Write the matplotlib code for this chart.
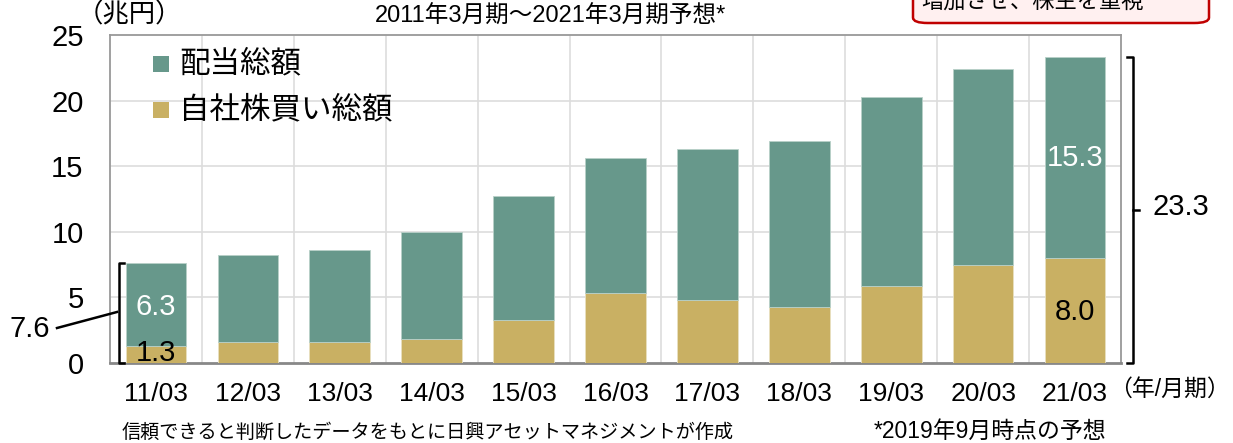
import matplotlib
matplotlib.use("Agg")
import matplotlib.pyplot as plt
from matplotlib.patches import FancyBboxPatch, Rectangle
from matplotlib.lines import Line2D

plt.rcParams['font.family'] = ['Liberation Sans', 'Noto Sans CJK JP', 'DejaVu Sans']

categories = ["11/03", "12/03", "13/03", "14/03", "15/03", "16/03",
              "17/03", "18/03", "19/03", "20/03", "21/03"]
buyback = [1.3, 1.6, 1.6, 1.8, 3.3, 5.3, 4.8, 4.3, 5.9, 7.5, 8.0]
dividend = [6.3, 6.6, 7.0, 8.2, 9.4, 10.3, 11.5, 12.6, 14.4, 14.9, 15.3]
yticks = [0, 5, 10, 15, 20, 25]
legend_labels = ["配当総額", "自社株買い総額"]

c_div = "#67988B"
c_buy = "#C9B063"

fig = plt.figure(figsize=(12.33, 4.43), dpi=100)
ax = fig.add_axes([110/1233, 1-363/443, (1121-110)/1233, (363-35)/443])

x = list(range(len(categories)))
ax.bar(x, buyback, width=0.66, color=c_buy, edgecolor="#E8E0C0", linewidth=0.6, zorder=3)
ax.bar(x, dividend, bottom=buyback, width=0.66, color=c_div, edgecolor="#B8D0C8",
       linewidth=0.6, zorder=3)

ax.set_xlim(-0.5, len(categories)-0.5)
ax.set_ylim(0, 25)
ax.set_yticks(yticks)
ax.set_yticklabels([str(v) for v in yticks], fontsize=21)
ax.set_xticks(x)
ax.set_xticklabels(categories, fontsize=19)
ax.tick_params(axis='both', length=0)
ax.tick_params(axis='y', pad=19)
ax.tick_params(axis='x', pad=14)

# grid
for v in yticks[1:-1]:
    ax.axhline(v, color="#DDDDDD", lw=1.2, zorder=1)
for b in x[:-1]:
    ax.axvline(b + 0.5, color="#DDDDDD", lw=1.2, zorder=1)

for s in ax.spines.values():
    s.set_color("#999999")
    s.set_linewidth(1.3)
ax.spines['bottom'].set_color("#888888")
ax.spines['bottom'].set_linewidth(2)

def px(xp, yp):
    return (xp/1233, 1-yp/443)

# legend (manual)
for (yc, col, lab) in [(64, c_div, legend_labels[0]), (110, c_buy, legend_labels[1])]:
    fig.add_artist(Rectangle(px(153, yc + 8), 16/1233, 16/443, transform=fig.transFigure,
                             facecolor=col, edgecolor='none'))
    fig.text(*px(179, yc), lab, ha='left', va='center', fontsize=22)

# value labels
ax.text(0, 4.3, f"{dividend[0]:.1f}", color="white",
        ha='center', va='center', fontsize=21, zorder=5)
ax.text(0, 0.75, f"{buyback[0]:.1f}", color="black", ha='center', va='center',
        fontsize=21, zorder=5)
ax.text(10, 15.6, f"{dividend[-1]:.1f}", color="white", ha='center', va='center',
        fontsize=21, zorder=5)
ax.text(10, 3.9, f"{buyback[-1]:.1f}", color="black", ha='center', va='center',
        fontsize=21, zorder=5)

total0 = buyback[0] + dividend[0]
totalN = buyback[-1] + dividend[-1]

def ypix(v):
    return 363 - v*(363-35)/25

lk = dict(color='black', lw=1.8, transform=fig.transFigure, clip_on=False)
# left bracket
yt, yb = ypix(total0), ypix(0)
fig.add_artist(Line2D(*zip(px(124, yt), px(119, yt), px(119, yb), px(124, yb)), **lk))
fig.add_artist(Line2D(*zip(px(57, 328), px(117, 312)), **lk))
fig.text(*px(30, 329), f"{total0:.1f}", ha='center', va='center', fontsize=21)
# right bracket
yt, yb = ypix(totalN), ypix(0)
ym = (yt + yb) / 2
fig.add_artist(Line2D(*zip(px(1127, yt), px(1133, yt), px(1133, yb), px(1127, yb)), **lk))
fig.add_artist(Line2D(*zip(px(1133, ym), px(1139, ym)), **lk))
fig.text(*px(1181, ym - 3), f"{totalN:.1f}", ha='center', va='center', fontsize=21)

# texts
fig.text(*px(551, 17), "2011年3月期～2021年3月期予想*", ha='center', va='center', fontsize=17)
fig.text(*px(129, 15), "（兆円）", ha='center', va='center', fontsize=19)
fig.text(*px(1109, 389), "（年/月期）", ha='left', va='center', fontsize=16.5)
fig.text(*px(122, 433), "信頼できると判断したデータをもとに日興アセットマネジメントが作成",
         ha='left', va='center', fontsize=13.8)
fig.text(*px(1106, 431), "*2019年9月時点の予想", ha='right', va='center', fontsize=16.5)

# cropped callout box
box = FancyBboxPatch(px(913, 23), (1209-913)/1233, 40/443,
                     boxstyle="round,pad=0,rounding_size=0.012",
                     transform=fig.transFigure, facecolor="#FFF0F0",
                     edgecolor="#C00000", lw=1.8, clip_on=False)
fig.add_artist(box)
fig.text(*px(1033, 3), "増加させ、株主を重視", ha='center', va='center', fontsize=16)

fig.savefig("out.png", dpi=100)
